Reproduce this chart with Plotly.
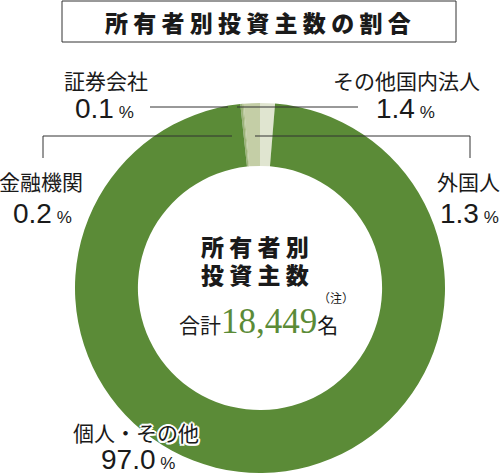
import plotly.graph_objects as go

# data
labels = ["外国人", "その他国内法人", "証券会社", "金融機関", "個人・その他"]
shares = [1.3, 1.4, 0.1, 0.2, 97.0]
colors = ["#e0e5d0", "#c4cea6", "#b0c08c", "#9db37a", "#5b8b37"]
total_investors = "18,449"

W, H = 504, 475
JP = "Noto Sans CJK JP"
NUM = "Liberation Sans"


def pct_text(v, small=17):
    return "%.1f<span style='font-size:%dpx'> %%</span>" % (v, small)


fig = go.Figure()

# donut (slices go counterclockwise from 12 o'clock)
fig.add_trace(go.Pie(
    labels=labels, values=shares, sort=False, direction="counterclockwise",
    rotation=0, hole=0.66, marker=dict(colors=colors, line=dict(width=0)),
    textinfo="none", hoverinfo="skip", showlegend=False,
    domain=dict(x=[75 / W, 445 / W], y=[1 - 473 / H, 1 - 103 / H]),
))

# title box
fig.add_shape(type="rect", x0=62, x1=456, y0=1, y1=42,
              line=dict(color="#333333", width=1), fillcolor="white")

# leader lines
line_style = dict(color="#333333", width=1)
fig.add_shape(type="line", x0=150, x1=228, y0=107, y1=107, line=line_style)
fig.add_shape(type="line", x0=237, x1=358, y0=107, y1=107, line=line_style)
fig.add_shape(type="line", x0=43, x1=232, y0=136, y1=136, line=line_style)
fig.add_shape(type="line", x0=43, x1=43, y0=136, y1=158, line=line_style)
fig.add_shape(type="line", x0=255, x1=470, y0=136, y1=136, line=line_style)
fig.add_shape(type="line", x0=470, x1=470, y0=136, y1=158, line=line_style)

annos = []


def add_text(x, y, text, size, family=JP, color="#1a1a1a", shadow=None, weight=None):
    f = dict(size=size, family=family, color=color)
    if shadow:
        f["shadow"] = shadow
    if weight:
        f["weight"] = weight
    annos.append(dict(x=x, y=y, text=text, showarrow=False, xanchor="center",
                      yanchor="middle", xref="x", yref="y", font=f))


# title
add_text(258, 22, "所 有 者 別 投 資 主 数 の 割 合", 23, weight=900)

# outer labels
add_text(106, 80, labels[2], 21)
add_text(104, 108, pct_text(shares[2]), 28, family=NUM)
add_text(406, 80, labels[1], 21)
add_text(405, 108, pct_text(shares[1]), 28, family=NUM)
add_text(41, 181, labels[3], 21)
add_text(42, 213, pct_text(shares[3]), 28, family=NUM)
add_text(468, 181, labels[0], 21)
add_text(469, 213, pct_text(shares[0]), 28, family=NUM)
halo = ("white 1.5px 1.5px 0, white -1.5px -1.5px 0, white 1.5px -1.5px 0, "
        "white -1.5px 1.5px 0, white 0 2px 0, white 0 -2px 0, white 2px 0 0, white -2px 0 0")
add_text(136, 432, labels[4], 21, shadow=halo)
add_text(138, 459, pct_text(shares[4]), 28, family=NUM, shadow=halo)

# center text
add_text(255, 246, "所 有 者 別", 23, weight=900)
add_text(255, 274, "投 資 主 数", 23, weight=900)
add_text(336, 297, "（注）", 12)
add_text(258, 321,
         "合計<span style='font-family:Liberation Serif;font-size:35px;color:#5b8b37'>"
         + total_investors + "</span>名", 21)

fig.update_layout(
    width=W, height=H, margin=dict(l=0, r=0, t=0, b=0),
    paper_bgcolor="white", plot_bgcolor="rgba(0,0,0,0)",
    xaxis=dict(range=[0, W], visible=False, fixedrange=True),
    yaxis=dict(range=[H, 0], visible=False, fixedrange=True),
    annotations=annos,
)
for s in fig.layout.shapes:
    s.xref = "x"
    s.yref = "y"
    s.layer = "below" if s.type == "rect" else "above"

# drop the default page margin so the figure sits at the window corner
fig.write_html("out.html", config={"displayModeBar": False},
               post_script="document.body.style.margin='0';")
